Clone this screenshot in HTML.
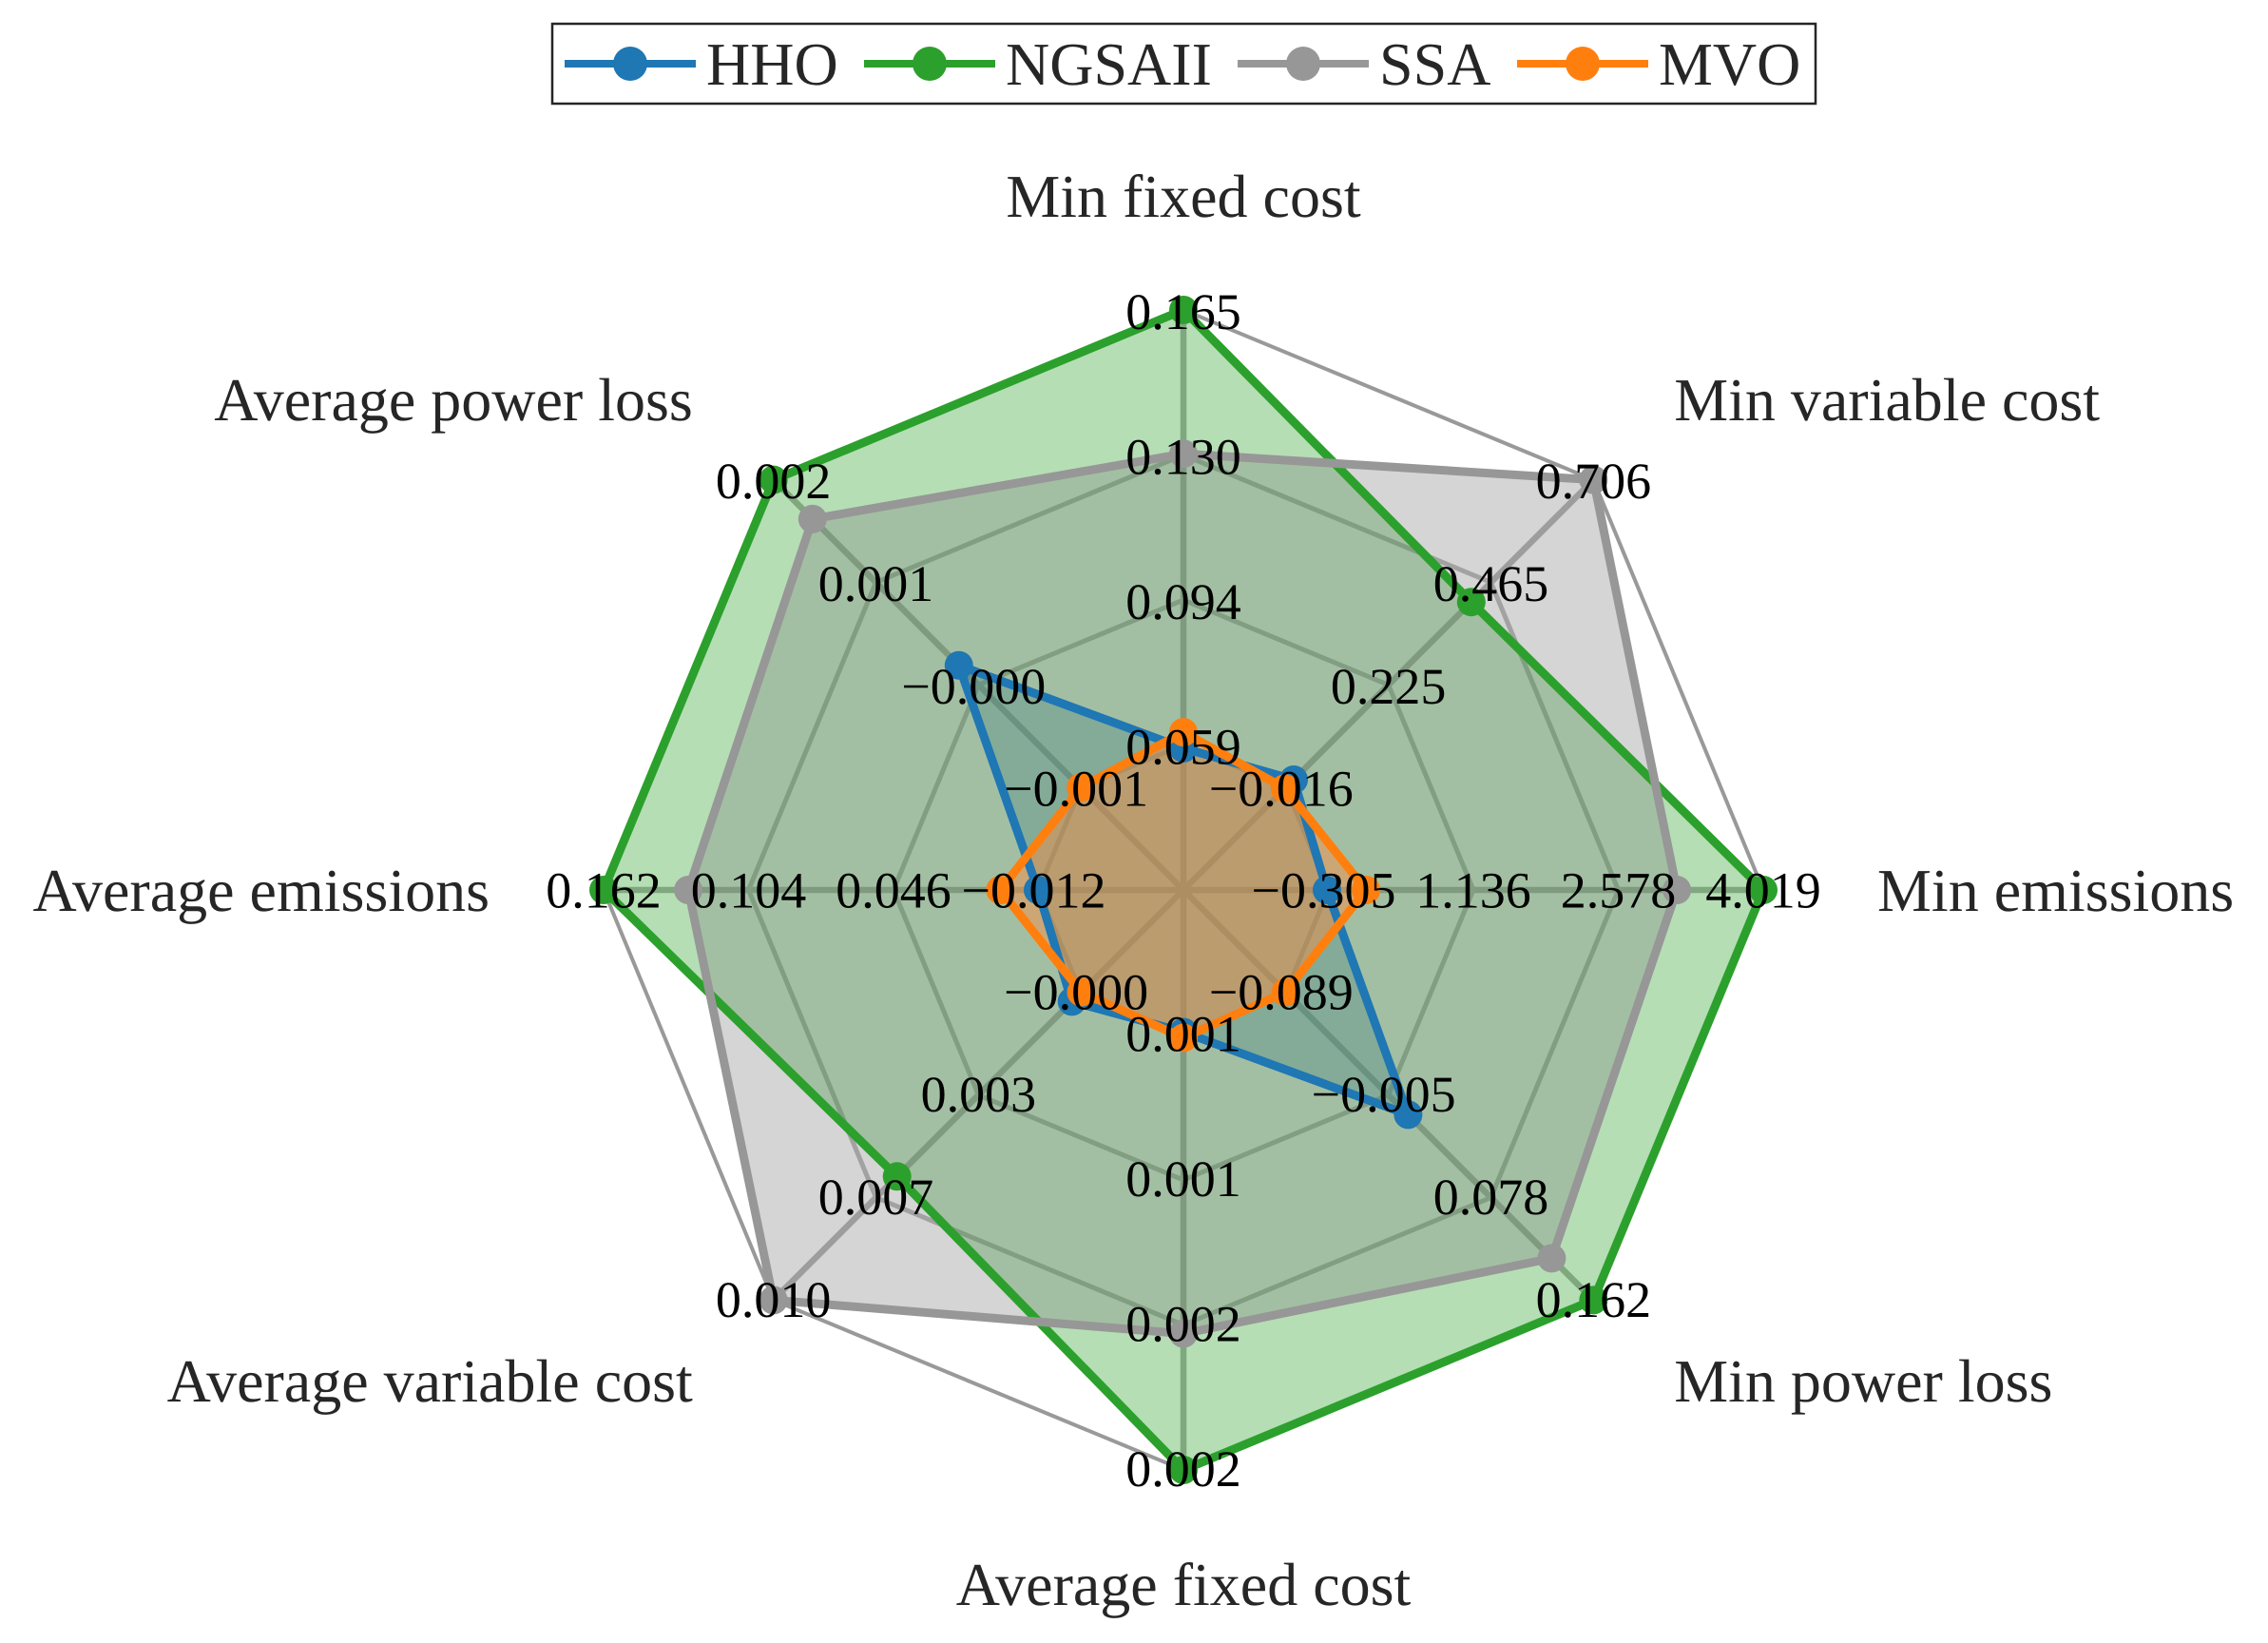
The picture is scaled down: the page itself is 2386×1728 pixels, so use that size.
<!DOCTYPE html>
<html lang="en">
<head>
<meta charset="utf-8">
<title>Radar chart</title>
<style>
html,body{margin:0;padding:0;background:#fff;}
body{width:2386px;height:1728px;overflow:hidden;}
svg{display:block;font-family:"Liberation Serif","Times New Roman",serif;text-rendering:geometricPrecision;}
</style>
</head>
<body>
<svg id="chart" xmlns="http://www.w3.org/2000/svg" width="2386" height="1728" viewBox="0 0 2386 1728">
  <rect x="0" y="0" width="2386" height="1728" fill="#ffffff"/>
  <g id="grid"></g>
  <g id="areas"></g>
  <g id="series"></g>
  <g id="ticks"></g>
  <g id="cats"></g>
  <g id="legend"></g>
</svg>
<script>
// Axes run clockwise from the top.
const categories = ["Min fixed cost","Min variable cost","Min emissions","Min power loss","Average fixed cost","Average variable cost","Average emissions","Average power loss"];
// Value at the centre and at the rim of each axis.
const axisLow  = [0.0238,-0.2568,-1.7365,-0.1728,0.0004,-0.0036,-0.0700,-0.0024];
const axisHigh = [0.1650, 0.7060, 4.0190, 0.1620,0.0024, 0.0100, 0.1620, 0.0020];
// Printed labels for rings 1-4 on each axis.
const tickLabels = [
  ["0.059","0.094","0.130","0.165"],
  ["\u22120.016","0.225","0.465","0.706"],
  ["\u22120.305","1.136","2.578","4.019"],
  ["\u22120.089","\u22120.005","0.078","0.162"],
  ["0.001","0.001","0.002","0.002"],
  ["\u22120.000","0.003","0.007","0.010"],
  ["\u22120.012","0.046","0.104","0.162"],
  ["\u22120.001","\u22120.000","0.001","0.002"]
];
const seriesNames = ["HHO","NGSAII","SSA","MVO"];
const hhoValues    = [0.0583, 0.0022,-0.3120, 0.0107,0.00089, 0.00010,-0.0118, 0.00001];
const ngsaiiValues = [0.1650, 0.4191, 4.0190, 0.1620,0.00240, 0.00590, 0.1620, 0.00200];
const ssaValues    = [0.1300, 0.7060, 3.1613, 0.1279,0.00193, 0.01000, 0.1281, 0.00158];
const mvoValues    = [0.0622,-0.0185, 0.0765,-0.0894,0.00091,-0.00021, 0.0033,-0.00130];

const NS = "http://www.w3.org/2000/svg";
const CX = 1245, CY = 936, R = 610, LABEL_R = 730, RINGS = 4;
const seriesValues = [hhoValues, ngsaiiValues, ssaValues, mvoValues];
const lineColors = ["#1f77b4","#2ca02c","#979797","#ff7f0e"];
const fillColors = ["#1f77b4","#2ca02c","#7f7f7f","#ff893e"];
const fillAlphas = [0.33, 0.35, 0.33, 0.45];

function make(tag, attrs, parent, text){
  const el = document.createElementNS(NS, tag);
  for (const k in attrs) el.setAttribute(k, attrs[k]);
  if (text !== undefined) el.textContent = text;
  parent.appendChild(el);
  return el;
}
function angleOf(i){ return 2 * Math.PI * i / categories.length; }
function radiusOf(i, v){ return R * (v - axisLow[i]) / (axisHigh[i] - axisLow[i]); }
function px(i, r){ return CX + r * Math.sin(angleOf(i)); }
function py(i, r){ return CY - r * Math.cos(angleOf(i)); }
function ptsFor(fn){ return categories.map(function(_, i){ const r = fn(i); return px(i, r).toFixed(2) + "," + py(i, r).toFixed(2); }).join(" "); }

const gridG = document.getElementById("grid");
categories.forEach(function(_, i){
  const spoke = make("line", {x1:CX, y1:CY, x2:px(i,R), y2:py(i,R), stroke:"#acacac", "stroke-width":6.5}, gridG);
  
  
});
for (let k = 1; k <= RINGS; k++) {
  const outer = k === RINGS;
  const ring = make("polygon", {points: ptsFor(function(){ return R * k / RINGS; }), fill:"none", stroke: outer ? "#999999" : "#b4b4b4", "stroke-width": outer ? 4 : 5, "stroke-linejoin":"miter"}, gridG);
  
  
}

const areasG = document.getElementById("areas");
const seriesG = document.getElementById("series");
seriesNames.forEach(function(name, s){
  const vals = seriesValues[s];
  const pts = ptsFor(function(i){ return radiusOf(i, vals[i]); });
  const area = make("polygon", {points:pts, fill:fillColors[s], "fill-opacity":fillAlphas[s], stroke:"none"}, areasG);
  
  
  const g = make("g", {}, seriesG);
  
  
  const line = make("polygon", {points:pts, fill:"none", stroke:lineColors[s], "stroke-width":9, "stroke-linejoin":"round"}, g);
  
  
  vals.forEach(function(v, i){
    const r = radiusOf(i, v);
    const dot = make("circle", {cx:px(i,r), cy:py(i,r), r:15, fill:lineColors[s]}, g);
    
    
  });
});

const ticksG = document.getElementById("ticks");
tickLabels.forEach(function(labels, i){
  labels.forEach(function(label, k){
    const r = R * (k + 1) / RINGS;
    const shift = label.charAt(0) === "\u2212" ? -5 : 0;
    const drop = 18.5 + 1.5 * Math.cos(angleOf(i));
    const t = make("text", {x:px(i,r) + shift, y:py(i,r) + drop, "text-anchor":"middle", "font-size":54, fill:"#000000"}, ticksG, label);
    
    
  });
});

const catsG = document.getElementById("cats");
categories.forEach(function(label, i){
  const sx = Math.sin(angleOf(i));
  const anchor = Math.abs(sx) < 0.01 ? "middle" : (sx > 0 ? "start" : "end");
  const t = make("text", {x:px(i,LABEL_R), y:py(i,LABEL_R) + 22, "text-anchor":anchor, "font-size":64, fill:"#262626"}, catsG, label);
  
  
});

const legendG = document.getElementById("legend");
const LEGEND_BOX = {x:581, y:25, w:1329, h:84};
const box = make("rect", {x:LEGEND_BOX.x, y:LEGEND_BOX.y, width:LEGEND_BOX.w, height:LEGEND_BOX.h, fill:"#ffffff", stroke:"#262626", "stroke-width":2.5}, legendG);


const legendStarts = [594, 909, 1302, 1596];
const LEGEND_Y = 67, HANDLE = 138, TEXT_GAP = 11;
seriesNames.forEach(function(name, s){
  const x0 = legendStarts[s];
  const entry = make("g", {}, legendG);
  
  
  make("line", {x1:x0, y1:LEGEND_Y, x2:x0 + HANDLE, y2:LEGEND_Y, stroke:lineColors[s], "stroke-width":8}, entry);
  make("circle", {cx:x0 + HANDLE / 2, cy:LEGEND_Y, r:18, fill:lineColors[s]}, entry);
  make("text", {x:x0 + HANDLE + TEXT_GAP, y:89, "font-size":64, fill:"#262626"}, entry, name);
});
</script>
</body>
</html>
